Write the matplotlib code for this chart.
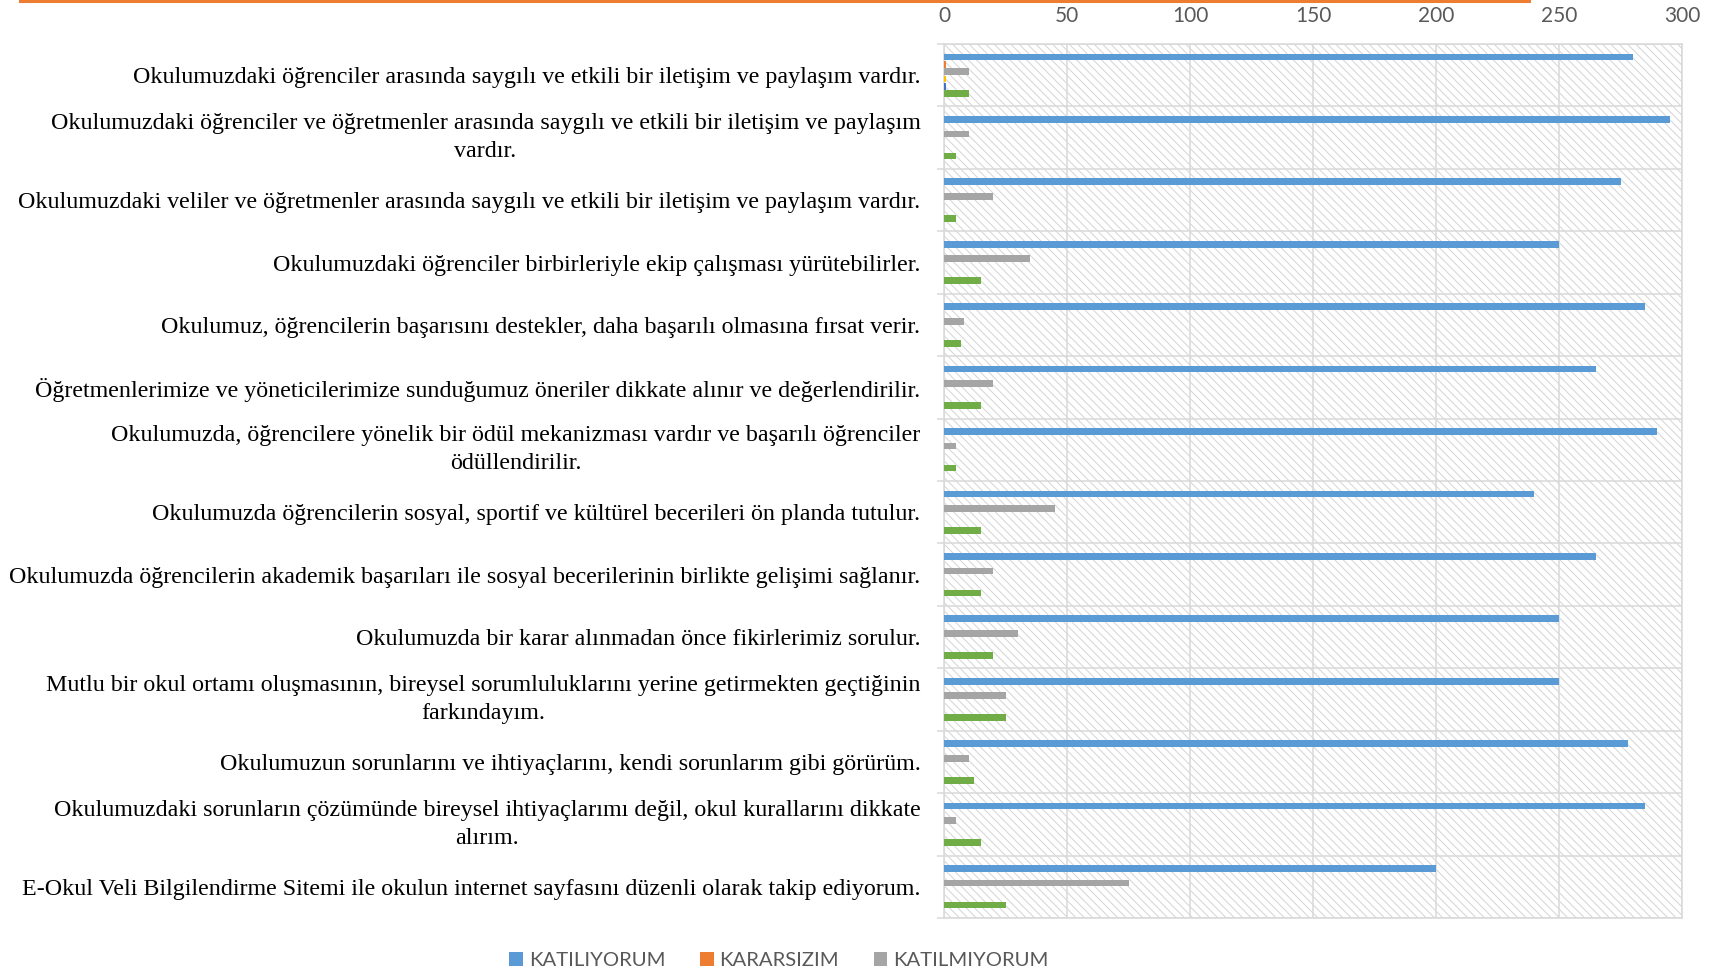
import numpy as np
import matplotlib
matplotlib.use('Agg')
import matplotlib.pyplot as plt
from matplotlib.lines import Line2D
from matplotlib.patches import Rectangle

# Survey items (top to bottom as shown)
items = [
    'Okulumuzdaki öğrenciler arasında saygılı ve etkili bir iletişim ve paylaşım vardır.',
    'Okulumuzdaki öğrenciler ve öğretmenler arasında saygılı ve etkili bir iletişim ve paylaşım\nvardır.',
    'Okulumuzdaki veliler ve öğretmenler arasında saygılı ve etkili bir iletişim ve paylaşım vardır.',
    'Okulumuzdaki öğrenciler birbirleriyle ekip çalışması yürütebilirler.',
    'Okulumuz, öğrencilerin başarısını destekler, daha başarılı olmasına fırsat verir.',
    'Öğretmenlerimize ve yöneticilerimize sunduğumuz öneriler dikkate alınır ve değerlendirilir.',
    'Okulumuzda, öğrencilere yönelik bir ödül mekanizması vardır ve başarılı öğrenciler\nödüllendirilir.',
    'Okulumuzda öğrencilerin sosyal, sportif ve kültürel becerileri ön planda tutulur.',
    'Okulumuzda öğrencilerin akademik başarıları ile sosyal becerilerinin birlikte gelişimi sağlanır.',
    'Okulumuzda bir karar alınmadan önce fikirlerimiz sorulur.',
    'Mutlu bir okul ortamı oluşmasının, bireysel sorumluluklarını yerine getirmekten geçtiğinin\nfarkındayım.',
    'Okulumuzun sorunlarını ve ihtiyaçlarını, kendi sorunlarım gibi görürüm.',
    'Okulumuzdaki sorunların çözümünde bireysel ihtiyaçlarımı değil, okul kurallarını dikkate\nalırım.',
    'E-Okul Veli Bilgilendirme Sitemi ile okulun internet sayfasını düzenli olarak takip ediyorum.',
]

series_names = ['KATILIYORUM', 'KARARSIZIM', 'KATILMIYORUM', 'Seri 4', 'Seri 5', 'Seri 6']
katiliyorum  = [280, 295, 275, 250, 285, 265, 290, 240, 265, 250, 250, 278, 285, 200]
kararsizim   = [1, 0, 0, 0, 0, 0, 0, 0, 0, 0, 0, 0, 0, 0]
katilmiyorum = [10, 10, 20, 35, 8, 20, 5, 45, 20, 30, 25, 10, 5, 75]
seri4        = [1, 0, 0, 0, 0, 0, 0, 0, 0, 0, 0, 0, 0, 0]
seri5        = [1, 0, 0, 0, 0, 0, 0, 0, 0, 0, 0, 0, 0, 0]
seri6        = [10, 5, 5, 15, 7, 15, 5, 15, 15, 20, 25, 12, 15, 25]
series_values = [katiliyorum, kararsizim, katilmiyorum, seri4, seri5, seri6]
colors = ['#5B9BD5', '#ED7D31', '#A5A5A5', '#FFC000', '#4472C4', '#70AD47']
xticks = [0, 50, 100, 150, 200, 250, 300]

grid_col = '#D9D9D9'
plt.rcParams['hatch.linewidth'] = 0.7

fig = plt.figure(figsize=(17.22, 9.71), dpi=100)
ax = fig.add_axes([944 / 1722, 1 - 918 / 971, (1682 - 944) / 1722, (918 - 44) / 971])

n = len(items)
y = np.arange(n)
slot = 0.1175
bar_h = 0.107

# hatched plot area
ax.add_patch(Rectangle((0, 0), 1, 1, transform=ax.transAxes, facecolor='white',
                       edgecolor='#D4D4D4', hatch='\\\\\\\\', linewidth=0, zorder=0))

bars = []
for i, (vals, col) in enumerate(zip(series_values, colors)):
    b = ax.barh(y + (i - 2.5) * slot, vals, height=bar_h, color=col, zorder=3,
                label=series_names[i])
    bars.append(b)

ax.set_xlim(0, 300)
ax.set_ylim(n - 0.5, -0.5)
ax.xaxis.set_ticks_position('top')
ax.set_xticks(xticks)
ax.set_xticklabels([str(t) for t in xticks], fontfamily='Lato', fontsize=15, color='#595959')
ax.tick_params(axis='x', length=0, pad=13)

ax.set_yticks(y)
ax.set_yticklabels(items, fontfamily='Liberation Serif', fontsize=17.3, color='black')
for lab in ax.get_yticklabels():
    lab.set_multialignment('center')
    if '\n' in lab.get_text():
        lab.set_linespacing(1.42)
        lab.set_verticalalignment('center')
ax.tick_params(axis='y', which='major', length=0, pad=17)
ax.set_yticks(np.arange(n + 1) - 0.5, minor=True)
ax.tick_params(axis='y', which='minor', length=5, width=1.1, color=grid_col)

ax.grid(axis='x', color=grid_col, linewidth=1.1, zorder=1)
ax.grid(axis='y', which='minor', color=grid_col, linewidth=1.1, zorder=1)
ax.set_axisbelow(True)
for s in ax.spines.values():
    s.set_color(grid_col)
    s.set_linewidth(1.1)

fig.legend(handles=bars[:3], labels=series_names[:3], loc='center',
           bbox_to_anchor=(0.4524, 0.011), ncol=3, frameon=False,
           prop={'family': 'Lato', 'size': 14.6}, labelcolor='#595959',
           handlelength=0.67, handleheight=0.67, handletextpad=0.3, columnspacing=1.7)

# orange rule at the very top of the page
fig.add_artist(Line2D([20 / 1722, 1529 / 1722], [1 - 1 / 971, 1 - 1 / 971],
                      transform=fig.transFigure, color='#ED7D31', linewidth=2.2))

fig.savefig('out.png', dpi=100)
